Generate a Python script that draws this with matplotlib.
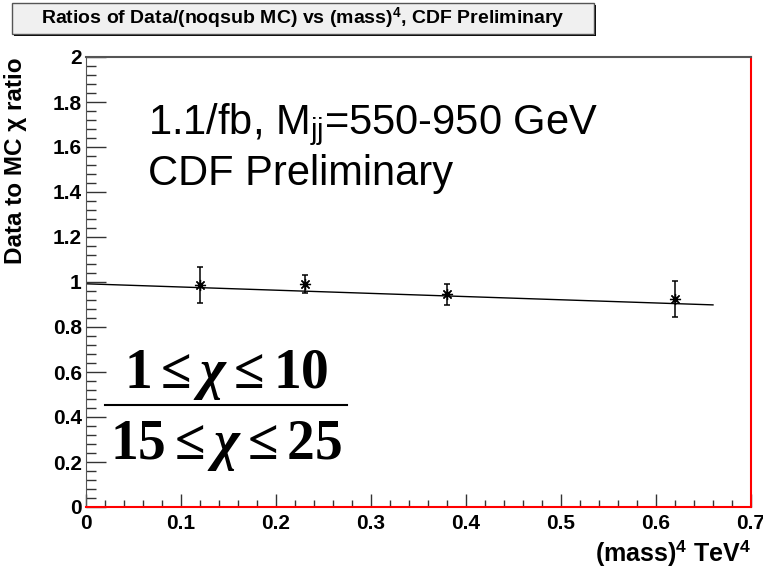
import matplotlib
matplotlib.use('Agg')
import matplotlib.pyplot as plt
from matplotlib.patches import Rectangle
from matplotlib.lines import Line2D
from matplotlib.ticker import MultipleLocator, FuncFormatter
import numpy as np

# data
mass4 = [0.12, 0.23, 0.38, 0.62]
ratio = [0.987, 0.990, 0.945, 0.923]
ratio_err = [0.080, 0.040, 0.048, 0.080]
fit_coef = [-0.142, 0.992]   # slope, intercept of the straight-line fit
fit_range = [0.0, 0.66]

plt.rcParams['font.family'] = ['Liberation Sans', 'DejaVu Sans']
plt.rcParams['mathtext.fontset'] = 'custom'
plt.rcParams['mathtext.rm'] = 'Liberation Serif:bold'
plt.rcParams['mathtext.it'] = 'Liberation Serif:italic:bold'
plt.rcParams['mathtext.bf'] = 'Liberation Sans:bold'
plt.rcParams['mathtext.sf'] = 'Liberation Sans'

W, H = 763, 571
fig = plt.figure(figsize=(W / 100, H / 100), dpi=100)
ax = fig.add_axes([86 / W, 64 / H, 665 / W, 450 / H])

# points, errors, fit
ax.errorbar(mass4, ratio, yerr=ratio_err, fmt='none', ecolor='black',
            elinewidth=1.1, capsize=2.5, capthick=1.1)
ax.plot(mass4, ratio, ls='none', marker=(8, 2, 0), ms=8, mec='black', mew=0.9)
ax.plot(mass4, ratio, ls='none', marker='o', ms=3, color='black')
fx = np.array(fit_range)
ax.plot(fx, np.polyval(fit_coef, fx), color='black', lw=1)

ax.set_xlim(0, 0.7)
ax.set_ylim(0, 2)
ax.xaxis.set_major_locator(MultipleLocator(0.1))
ax.xaxis.set_minor_locator(MultipleLocator(0.02))
ax.yaxis.set_major_locator(MultipleLocator(0.2))
ax.yaxis.set_minor_locator(MultipleLocator(0.04))
fmt = FuncFormatter(lambda v, _: f'{v:g}')
ax.xaxis.set_major_formatter(fmt)
ax.yaxis.set_major_formatter(fmt)
ax.tick_params(which='both', direction='in', top=False, right=False,
               labelsize=15, color='#333333')
ax.tick_params(axis='y', which='major', length=14.4, width=1, pad=3)
ax.tick_params(axis='y', which='minor', length=7.2, width=1)
ax.tick_params(axis='x', which='major', length=9.7, width=1, pad=5)
ax.tick_params(axis='x', which='minor', length=4.9, width=1)
for lbl in ax.get_xticklabels() + ax.get_yticklabels():
    lbl.set_fontweight('bold')

ax.spines['left'].set_color('#555555')
ax.spines['top'].set_color('#555555')
ax.spines['top'].set_linewidth(1.5)
ax.spines['bottom'].set_color('red')
ax.spines['bottom'].set_linewidth(1.5)
ax.spines['right'].set_color('red')
ax.spines['right'].set_linewidth(1.5)

ax.set_ylabel('Data to MC χ ratio', fontsize=17.5, fontweight='bold', loc='top')
ax.yaxis.set_label_coords(-0.088, 1.0)
ax.set_xlabel(r'(mass)$^{\mathbf{4}}$ TeV$^{\mathbf{4}}$', fontsize=18,
              fontweight='bold', loc='right')
ax.xaxis.set_label_coords(1.0, -0.068)

# annotations
fig.text(148 / W, 1 - 134 / H, r'1.1/fb, M$_{\mathsf{jj}}$=550-950 GeV',
         fontsize=30, va='baseline', ha='left')
fig.text(148 / W, 1 - 185 / H, 'CDF Preliminary',
         fontsize=30, va='baseline', ha='left')
fig.text(226 / W, 1 - 388 / H, r'$1\leq\chi\leq10$', fontsize=40,
         va='baseline', ha='center')
fig.text(226 / W, 1 - 459 / H, r'$15\leq\chi\leq25$', fontsize=40,
         va='baseline', ha='center')
fig.add_artist(Line2D([105 / W, 347 / W], [1 - 405 / H, 1 - 405 / H],
                      color='black', lw=1.5, transform=fig.transFigure))

# title box with shadow
bx0, bx1, by0, by1 = 12, 594, 3, 34
fig.add_artist(Rectangle((bx0 / W + 2 / W, 1 - by1 / H - 2 / H),
                         (bx1 - bx0) / W, (by1 - by0) / H,
                         transform=fig.transFigure, fc='black', ec='none'))
fig.add_artist(Rectangle((bx0 / W, 1 - by1 / H), (bx1 - bx0) / W, (by1 - by0) / H,
                         transform=fig.transFigure, fc='#f0f0f0', ec='#555555', lw=1))
fig.text((bx0 + bx1) / 2 / W, 1 - (by0 + by1) / 2 / H,
         r'Ratios of Data/(noqsub MC) vs (mass)$^{\mathbf{4}}$, CDF Preliminary',
         fontsize=14, fontweight='bold', ha='center', va='center')

fig.savefig('out.png', dpi=100)
